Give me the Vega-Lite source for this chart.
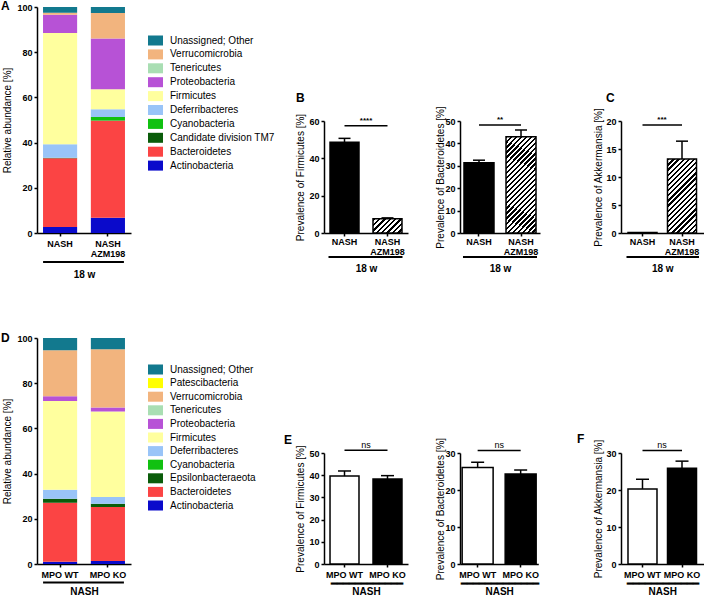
{
  "$schema": "https://vega.github.io/schema/vega-lite/v6.json",
  "padding": {"left": 1, "top": 0, "right": 0, "bottom": 0},
  "background": "white",
  "datasets": {
    "stackA": [
      {"s": "NASH", "ph": "Actinobacteria", "v": 2.7, "o": 1},
      {"s": "NASH", "ph": "Bacteroidetes", "v": 30.4, "o": 2},
      {"s": "NASH", "ph": "Candidate division TM7", "v": 0.1, "o": 3},
      {"s": "NASH", "ph": "Cyanobacteria", "v": 0.1, "o": 4},
      {"s": "NASH", "ph": "Deferribacteres", "v": 6.0, "o": 5},
      {"s": "NASH", "ph": "Firmicutes", "v": 49.2, "o": 6},
      {"s": "NASH", "ph": "Proteobacteria", "v": 8.1, "o": 7},
      {"s": "NASH", "ph": "Tenericutes", "v": 0.0, "o": 8},
      {"s": "NASH", "ph": "Verrucomicrobia", "v": 0.9, "o": 9},
      {"s": "NASH", "ph": "Unassigned; Other", "v": 2.5, "o": 10},
      {"s": "NASH AZM198", "ph": "Actinobacteria", "v": 6.7, "o": 1},
      {"s": "NASH AZM198", "ph": "Bacteroidetes", "v": 43.0, "o": 2},
      {"s": "NASH AZM198", "ph": "Candidate division TM7", "v": 0.1, "o": 3},
      {"s": "NASH AZM198", "ph": "Cyanobacteria", "v": 1.5, "o": 4},
      {"s": "NASH AZM198", "ph": "Deferribacteres", "v": 3.5, "o": 5},
      {"s": "NASH AZM198", "ph": "Firmicutes", "v": 8.8, "o": 6},
      {"s": "NASH AZM198", "ph": "Proteobacteria", "v": 22.5, "o": 7},
      {"s": "NASH AZM198", "ph": "Tenericutes", "v": 0.0, "o": 8},
      {"s": "NASH AZM198", "ph": "Verrucomicrobia", "v": 11.3, "o": 9},
      {"s": "NASH AZM198", "ph": "Unassigned; Other", "v": 2.6, "o": 10}
    ],
    "stackD": [
      {"s": "MPO WT", "ph": "Actinobacteria", "v": 1.0, "o": 1},
      {"s": "MPO WT", "ph": "Bacteroidetes", "v": 26.1, "o": 2},
      {"s": "MPO WT", "ph": "Epsilonbacteraeota", "v": 1.8, "o": 3},
      {"s": "MPO WT", "ph": "Cyanobacteria", "v": 0.0, "o": 4},
      {"s": "MPO WT", "ph": "Deferribacteres", "v": 4.0, "o": 5},
      {"s": "MPO WT", "ph": "Firmicutes", "v": 39.2, "o": 6},
      {"s": "MPO WT", "ph": "Proteobacteria", "v": 2.1, "o": 7},
      {"s": "MPO WT", "ph": "Tenericutes", "v": 0.0, "o": 8},
      {"s": "MPO WT", "ph": "Verrucomicrobia", "v": 20.4, "o": 9},
      {"s": "MPO WT", "ph": "Patescibacteria", "v": 0.0, "o": 10},
      {"s": "MPO WT", "ph": "Unassigned; Other", "v": 5.4, "o": 11},
      {"s": "MPO KO", "ph": "Actinobacteria", "v": 1.3, "o": 1},
      {"s": "MPO KO", "ph": "Bacteroidetes", "v": 23.9, "o": 2},
      {"s": "MPO KO", "ph": "Epsilonbacteraeota", "v": 1.5, "o": 3},
      {"s": "MPO KO", "ph": "Cyanobacteria", "v": 0.0, "o": 4},
      {"s": "MPO KO", "ph": "Deferribacteres", "v": 2.9, "o": 5},
      {"s": "MPO KO", "ph": "Firmicutes", "v": 37.9, "o": 6},
      {"s": "MPO KO", "ph": "Proteobacteria", "v": 1.8, "o": 7},
      {"s": "MPO KO", "ph": "Tenericutes", "v": 0.0, "o": 8},
      {"s": "MPO KO", "ph": "Verrucomicrobia", "v": 25.7, "o": 9},
      {"s": "MPO KO", "ph": "Patescibacteria", "v": 0.0, "o": 10},
      {"s": "MPO KO", "ph": "Unassigned; Other", "v": 5.0, "o": 11}
    ],
    "bars": [
      {"p": "B1", "g": "NASH", "v": 48.6, "e": 50.7},
      {"p": "B1", "g": "NASH AZM198", "v": 7.6, "e": 8.1},
      {"p": "B2", "g": "NASH", "v": 31.4, "e": 32.5},
      {"p": "B2", "g": "NASH AZM198", "v": 43.0, "e": 46.0},
      {"p": "C", "g": "NASH", "v": 0.1, "e": 0.1},
      {"p": "C", "g": "NASH AZM198", "v": 13.2, "e": 16.4},
      {"p": "E1", "g": "MPO WT", "v": 39.6, "e": 41.9},
      {"p": "E1", "g": "MPO KO", "v": 38.3, "e": 39.8},
      {"p": "E2", "g": "MPO WT", "v": 26.1, "e": 27.5},
      {"p": "E2", "g": "MPO KO", "v": 24.3, "e": 25.4},
      {"p": "F", "g": "MPO WT", "v": 20.3, "e": 22.9},
      {"p": "F", "g": "MPO KO", "v": 25.9, "e": 27.8}
    ],
    "sig": [
      {"p": "B1", "g": "NASH", "g2": "NASH AZM198", "v": 57.5, "t": "****"},
      {"p": "B2", "g": "NASH", "g2": "NASH AZM198", "v": 48.2, "t": "**"},
      {"p": "C", "g": "NASH", "g2": "NASH AZM198", "v": 19.3, "t": "***"},
      {"p": "E1", "g": "MPO WT", "g2": "MPO KO", "v": 51.2, "t": "ns"},
      {"p": "E2", "g": "MPO WT", "g2": "MPO KO", "v": 30.7, "t": "ns"},
      {"p": "F", "g": "MPO WT", "g2": "MPO KO", "v": 30.7, "t": "ns"}
    ]
  },
  "columns": 4,
  "align": "each",
  "bounds": "flush",
  "spacing": {"row": 105, "column": 0},
  "concat": [
    {
      "width": 287, "height": 226,
      "title": {"text": "A", "anchor": "start", "frame": "bounds", "fontSize": 12, "fontWeight": "bold", "offset": 0, "dy": 10, "dx": -1},
      "encoding": {
        "x": {"field": "s", "type": "nominal", "scale": {"domain": ["NASH", "NASH AZM198"], "range": [0, 94], "paddingInner": 0.287, "paddingOuter": 0.126},
              "axis": {"title": "18 w", "titleY": 36.5, "labelExpr": "datum.value == 'NASH AZM198' ? ['NASH', 'AZM198'] : datum.label"}}
      },
      "layer": [
        {
          "data": {"name": "stackA"},
          "mark": {"type": "bar"},
          "encoding": {
            "y": {"field": "v", "type": "quantitative", "stack": "zero", "scale": {"domain": [0, 100], "nice": false}, "axis": {"values": [0, 20, 40, 60, 80, 100], "titleX": -25}, "title": "Relative abundance [%]"},
            "color": {"field": "ph", "type": "nominal",
              "scale": {"domain": ["Unassigned; Other", "Verrucomicrobia", "Tenericutes", "Proteobacteria", "Firmicutes", "Deferribacteres", "Cyanobacteria", "Candidate division TM7", "Bacteroidetes", "Actinobacteria"],
                        "range": ["#12798e", "#f2b47e", "#a9deb3", "#b752d6", "#ffff9e", "#99c4f8", "#11c111", "#0a5c0a", "#fb4444", "#0a0acb"]},
              "legend": {"orient": "none", "legendX": 111, "legendY": 26, "title": null, "rowPadding": 0.9}},
            "order": {"field": "o", "type": "quantitative"}
          }
        },
        {"data": {"values": [{"s": "NASH", "s2": "NASH AZM198", "z": 0}]}, "mark": {"type": "rule", "color": "black", "strokeWidth": 2, "xOffset": -17, "x2Offset": 16, "yOffset": 29}, "encoding": {"x2": {"field": "s2"}, "y": {"field": "z", "type": "quantitative", "title": "Relative abundance [%]"}}}
      ]
    },
    {
      "width": 136, "height": 226,
      "title": {"text": "B", "anchor": "start", "frame": "bounds", "fontSize": 12, "fontWeight": "bold", "offset": 0, "dy": 98, "dx": 1},
      "encoding": {
        "x": {"field": "g", "type": "nominal", "scale": {"domain": ["NASH", "NASH AZM198"], "range": [0, 84], "paddingInner": 0.326, "paddingOuter": 0.14},
              "axis": {"title": "18 w", "titleY": 30.5, "labelPadding": 1, "labelExpr": "datum.value == 'NASH AZM198' ? ['NASH', 'AZM198'] : datum.label"}},
        "y": {"field": "v", "type": "quantitative", "scale": {"domain": [0, 60], "range": [226, 114], "nice": false}, "axis": {"values": [0, 20, 40, 60], "titleX": -19}, "title": "Prevalence of Firmicutes [%]"}
      },
      "layer": [
        {"data": {"name": "bars"}, "transform": [{"filter": "datum.p == 'B1' && datum.g == 'NASH'"}], "mark": {"type": "bar", "fill": "black", "stroke": "black", "strokeWidth": 1.5}},
        {"data": {"name": "bars"}, "transform": [{"filter": "datum.p == 'B1' && datum.g == 'NASH AZM198'"}], "mark": {"type": "bar", "stroke": "black", "strokeWidth": 1.5,
          "fill": {"gradient": "linear", "x1": 0, "y1": 0, "x2": 1.2016, "y2": 0.588, "stops": [
            {"offset": 0, "color": "black"}, {"offset": 0.05625, "color": "black"}, {"offset": 0.05625, "color": "white"}, {"offset": 0.125, "color": "white"},
            {"offset": 0.125, "color": "black"}, {"offset": 0.18125, "color": "black"}, {"offset": 0.18125, "color": "white"}, {"offset": 0.25, "color": "white"},
            {"offset": 0.25, "color": "black"}, {"offset": 0.30625, "color": "black"}, {"offset": 0.30625, "color": "white"}, {"offset": 0.375, "color": "white"},
            {"offset": 0.375, "color": "black"}, {"offset": 0.43125, "color": "black"}, {"offset": 0.43125, "color": "white"}, {"offset": 0.5, "color": "white"},
            {"offset": 0.5, "color": "black"}, {"offset": 0.55625, "color": "black"}, {"offset": 0.55625, "color": "white"}, {"offset": 0.625, "color": "white"},
            {"offset": 0.625, "color": "black"}, {"offset": 0.68125, "color": "black"}, {"offset": 0.68125, "color": "white"}, {"offset": 0.75, "color": "white"},
            {"offset": 0.75, "color": "black"}, {"offset": 0.80625, "color": "black"}, {"offset": 0.80625, "color": "white"}, {"offset": 0.875, "color": "white"},
            {"offset": 0.875, "color": "black"}, {"offset": 0.93125, "color": "black"}, {"offset": 0.93125, "color": "white"}, {"offset": 1, "color": "white"}
          ]}}},
        {"data": {"name": "bars"}, "transform": [{"filter": "datum.p == 'B1'"}], "mark": {"type": "rule", "color": "black", "strokeWidth": 1.5}, "encoding": {"y2": {"field": "e"}}},
        {"data": {"name": "bars"}, "transform": [{"filter": "datum.p == 'B1'"}], "mark": {"type": "tick", "color": "black", "opacity": 1, "thickness": 1.5, "size": 12}, "encoding": {"y": {"field": "e", "type": "quantitative", "title": "Prevalence of Firmicutes [%]"}}},
        {"data": {"name": "sig"}, "transform": [{"filter": "datum.p == 'B1'"}], "mark": {"type": "rule", "color": "black", "strokeWidth": 1.5}, "encoding": {"x2": {"field": "g2"}}},
        {"data": {"name": "sig"}, "transform": [{"filter": "datum.p == 'B1'"}], "mark": {"type": "text", "dx": 21.5, "dy": -1, "baseline": "bottom", "fontSize": 8, "fontWeight": "bold", "color": "black"}, "encoding": {"text": {"field": "t"}}},
        {"data": {"values": [{"g": "NASH", "g2": "NASH AZM198", "z": 0}]}, "mark": {"type": "rule", "color": "black", "strokeWidth": 2, "xOffset": -16, "x2Offset": 15, "yOffset": 24}, "encoding": {"x2": {"field": "g2"}, "y": {"field": "z", "type": "quantitative", "title": "Prevalence of Firmicutes [%]"}}}
      ]
    },
    {
      "width": 161, "height": 226,
      "encoding": {
        "x": {"field": "g", "type": "nominal", "scale": {"domain": ["NASH", "NASH AZM198"], "range": [0, 80], "paddingInner": 0.286, "paddingOuter": 0.095},
              "axis": {"title": "18 w", "titleY": 30.5, "labelPadding": 1, "labelExpr": "datum.value == 'NASH AZM198' ? ['NASH', 'AZM198'] : datum.label"}},
        "y": {"field": "v", "type": "quantitative", "scale": {"domain": [0, 50], "range": [226, 114], "nice": false}, "axis": {"values": [0, 10, 20, 30, 40, 50], "titleX": -15}, "title": "Prevalence of Bacteroidetes [%]"}
      },
      "layer": [
        {"data": {"name": "bars"}, "transform": [{"filter": "datum.p == 'B2' && datum.g == 'NASH'"}], "mark": {"type": "bar", "fill": "black", "stroke": "black", "strokeWidth": 1.5}},
        {"data": {"name": "bars"}, "transform": [{"filter": "datum.p == 'B2' && datum.g == 'NASH AZM198'"}], "mark": {"type": "bar", "stroke": "black", "strokeWidth": 1.5,
          "fill": {"gradient": "linear", "x1": 0, "y1": 0, "x2": 0.3816, "y2": 1.197, "stops": [
            {"offset": 0, "color": "black"}, {"offset": 0.018, "color": "black"}, {"offset": 0.018, "color": "white"}, {"offset": 0.04, "color": "white"},
            {"offset": 0.04, "color": "black"}, {"offset": 0.058, "color": "black"}, {"offset": 0.058, "color": "white"}, {"offset": 0.08, "color": "white"},
            {"offset": 0.08, "color": "black"}, {"offset": 0.098, "color": "black"}, {"offset": 0.098, "color": "white"}, {"offset": 0.12, "color": "white"},
            {"offset": 0.12, "color": "black"}, {"offset": 0.138, "color": "black"}, {"offset": 0.138, "color": "white"}, {"offset": 0.16, "color": "white"},
            {"offset": 0.16, "color": "black"}, {"offset": 0.178, "color": "black"}, {"offset": 0.178, "color": "white"}, {"offset": 0.2, "color": "white"},
            {"offset": 0.2, "color": "black"}, {"offset": 0.218, "color": "black"}, {"offset": 0.218, "color": "white"}, {"offset": 0.24, "color": "white"},
            {"offset": 0.24, "color": "black"}, {"offset": 0.258, "color": "black"}, {"offset": 0.258, "color": "white"}, {"offset": 0.28, "color": "white"},
            {"offset": 0.28, "color": "black"}, {"offset": 0.298, "color": "black"}, {"offset": 0.298, "color": "white"}, {"offset": 0.32, "color": "white"},
            {"offset": 0.32, "color": "black"}, {"offset": 0.338, "color": "black"}, {"offset": 0.338, "color": "white"}, {"offset": 0.36, "color": "white"},
            {"offset": 0.36, "color": "black"}, {"offset": 0.378, "color": "black"}, {"offset": 0.378, "color": "white"}, {"offset": 0.4, "color": "white"},
            {"offset": 0.4, "color": "black"}, {"offset": 0.418, "color": "black"}, {"offset": 0.418, "color": "white"}, {"offset": 0.44, "color": "white"},
            {"offset": 0.44, "color": "black"}, {"offset": 0.458, "color": "black"}, {"offset": 0.458, "color": "white"}, {"offset": 0.48, "color": "white"},
            {"offset": 0.48, "color": "black"}, {"offset": 0.498, "color": "black"}, {"offset": 0.498, "color": "white"}, {"offset": 0.52, "color": "white"},
            {"offset": 0.52, "color": "black"}, {"offset": 0.538, "color": "black"}, {"offset": 0.538, "color": "white"}, {"offset": 0.56, "color": "white"},
            {"offset": 0.56, "color": "black"}, {"offset": 0.578, "color": "black"}, {"offset": 0.578, "color": "white"}, {"offset": 0.6, "color": "white"},
            {"offset": 0.6, "color": "black"}, {"offset": 0.618, "color": "black"}, {"offset": 0.618, "color": "white"}, {"offset": 0.64, "color": "white"},
            {"offset": 0.64, "color": "black"}, {"offset": 0.658, "color": "black"}, {"offset": 0.658, "color": "white"}, {"offset": 0.68, "color": "white"},
            {"offset": 0.68, "color": "black"}, {"offset": 0.698, "color": "black"}, {"offset": 0.698, "color": "white"}, {"offset": 0.72, "color": "white"},
            {"offset": 0.72, "color": "black"}, {"offset": 0.738, "color": "black"}, {"offset": 0.738, "color": "white"}, {"offset": 0.76, "color": "white"},
            {"offset": 0.76, "color": "black"}, {"offset": 0.778, "color": "black"}, {"offset": 0.778, "color": "white"}, {"offset": 0.8, "color": "white"},
            {"offset": 0.8, "color": "black"}, {"offset": 0.818, "color": "black"}, {"offset": 0.818, "color": "white"}, {"offset": 0.84, "color": "white"},
            {"offset": 0.84, "color": "black"}, {"offset": 0.858, "color": "black"}, {"offset": 0.858, "color": "white"}, {"offset": 0.88, "color": "white"},
            {"offset": 0.88, "color": "black"}, {"offset": 0.898, "color": "black"}, {"offset": 0.898, "color": "white"}, {"offset": 0.92, "color": "white"},
            {"offset": 0.92, "color": "black"}, {"offset": 0.938, "color": "black"}, {"offset": 0.938, "color": "white"}, {"offset": 0.96, "color": "white"},
            {"offset": 0.96, "color": "black"}, {"offset": 0.978, "color": "black"}, {"offset": 0.978, "color": "white"}, {"offset": 1, "color": "white"}
          ]}}},
        {"data": {"name": "bars"}, "transform": [{"filter": "datum.p == 'B2'"}], "mark": {"type": "rule", "color": "black", "strokeWidth": 1.5}, "encoding": {"y2": {"field": "e"}}},
        {"data": {"name": "bars"}, "transform": [{"filter": "datum.p == 'B2'"}], "mark": {"type": "tick", "color": "black", "opacity": 1, "thickness": 1.5, "size": 12}, "encoding": {"y": {"field": "e", "type": "quantitative", "title": "Prevalence of Bacteroidetes [%]"}}},
        {"data": {"name": "sig"}, "transform": [{"filter": "datum.p == 'B2'"}], "mark": {"type": "rule", "color": "black", "strokeWidth": 1.5}, "encoding": {"x2": {"field": "g2"}}},
        {"data": {"name": "sig"}, "transform": [{"filter": "datum.p == 'B2'"}], "mark": {"type": "text", "dx": 21, "dy": -1, "baseline": "bottom", "fontSize": 8, "fontWeight": "bold", "color": "black"}, "encoding": {"text": {"field": "t"}}},
        {"data": {"values": [{"g": "NASH", "g2": "NASH AZM198", "z": 0}]}, "mark": {"type": "rule", "color": "black", "strokeWidth": 2, "xOffset": -16, "x2Offset": 16, "yOffset": 24}, "encoding": {"x2": {"field": "g2"}, "y": {"field": "z", "type": "quantitative", "title": "Prevalence of Bacteroidetes [%]"}}}
      ]
    },
    {
      "width": 85, "height": 226,
      "title": {"text": "C", "anchor": "start", "frame": "bounds", "fontSize": 12, "fontWeight": "bold", "offset": 0, "dy": 98, "dx": 13},
      "encoding": {
        "x": {"field": "g", "type": "nominal", "scale": {"domain": ["NASH", "NASH AZM198"], "range": [0, 82.5], "paddingInner": 0.266, "paddingOuter": 0.177},
              "axis": {"title": "18 w", "titleY": 30.5, "labelPadding": 1, "labelExpr": "datum.value == 'NASH AZM198' ? ['NASH', 'AZM198'] : datum.label"}},
        "y": {"field": "v", "type": "quantitative", "scale": {"domain": [0, 20], "range": [226, 114], "nice": false}, "axis": {"values": [0, 5, 10, 15, 20], "titleX": -18}, "title": "Prevalence of Akkermansia [%]"}
      },
      "layer": [
        {"data": {"name": "bars"}, "transform": [{"filter": "datum.p == 'C' && datum.g == 'NASH'"}], "mark": {"type": "bar", "fill": "black", "stroke": "black", "strokeWidth": 1.5}},
        {"data": {"name": "bars"}, "transform": [{"filter": "datum.p == 'C' && datum.g == 'NASH AZM198'"}], "mark": {"type": "bar", "stroke": "black", "strokeWidth": 1.5,
          "fill": {"gradient": "linear", "x1": 0, "y1": 0, "x2": 0.4735, "y2": 1.2066, "stops": [
            {"offset": 0, "color": "black"}, {"offset": 0.0225, "color": "black"}, {"offset": 0.0225, "color": "white"}, {"offset": 0.05, "color": "white"},
            {"offset": 0.05, "color": "black"}, {"offset": 0.0725, "color": "black"}, {"offset": 0.0725, "color": "white"}, {"offset": 0.1, "color": "white"},
            {"offset": 0.1, "color": "black"}, {"offset": 0.1225, "color": "black"}, {"offset": 0.1225, "color": "white"}, {"offset": 0.15, "color": "white"},
            {"offset": 0.15, "color": "black"}, {"offset": 0.1725, "color": "black"}, {"offset": 0.1725, "color": "white"}, {"offset": 0.2, "color": "white"},
            {"offset": 0.2, "color": "black"}, {"offset": 0.2225, "color": "black"}, {"offset": 0.2225, "color": "white"}, {"offset": 0.25, "color": "white"},
            {"offset": 0.25, "color": "black"}, {"offset": 0.2725, "color": "black"}, {"offset": 0.2725, "color": "white"}, {"offset": 0.3, "color": "white"},
            {"offset": 0.3, "color": "black"}, {"offset": 0.3225, "color": "black"}, {"offset": 0.3225, "color": "white"}, {"offset": 0.35, "color": "white"},
            {"offset": 0.35, "color": "black"}, {"offset": 0.3725, "color": "black"}, {"offset": 0.3725, "color": "white"}, {"offset": 0.4, "color": "white"},
            {"offset": 0.4, "color": "black"}, {"offset": 0.4225, "color": "black"}, {"offset": 0.4225, "color": "white"}, {"offset": 0.45, "color": "white"},
            {"offset": 0.45, "color": "black"}, {"offset": 0.4725, "color": "black"}, {"offset": 0.4725, "color": "white"}, {"offset": 0.5, "color": "white"},
            {"offset": 0.5, "color": "black"}, {"offset": 0.5225, "color": "black"}, {"offset": 0.5225, "color": "white"}, {"offset": 0.55, "color": "white"},
            {"offset": 0.55, "color": "black"}, {"offset": 0.5725, "color": "black"}, {"offset": 0.5725, "color": "white"}, {"offset": 0.6, "color": "white"},
            {"offset": 0.6, "color": "black"}, {"offset": 0.6225, "color": "black"}, {"offset": 0.6225, "color": "white"}, {"offset": 0.65, "color": "white"},
            {"offset": 0.65, "color": "black"}, {"offset": 0.6725, "color": "black"}, {"offset": 0.6725, "color": "white"}, {"offset": 0.7, "color": "white"},
            {"offset": 0.7, "color": "black"}, {"offset": 0.7225, "color": "black"}, {"offset": 0.7225, "color": "white"}, {"offset": 0.75, "color": "white"},
            {"offset": 0.75, "color": "black"}, {"offset": 0.7725, "color": "black"}, {"offset": 0.7725, "color": "white"}, {"offset": 0.8, "color": "white"},
            {"offset": 0.8, "color": "black"}, {"offset": 0.8225, "color": "black"}, {"offset": 0.8225, "color": "white"}, {"offset": 0.85, "color": "white"},
            {"offset": 0.85, "color": "black"}, {"offset": 0.8725, "color": "black"}, {"offset": 0.8725, "color": "white"}, {"offset": 0.9, "color": "white"},
            {"offset": 0.9, "color": "black"}, {"offset": 0.9225, "color": "black"}, {"offset": 0.9225, "color": "white"}, {"offset": 0.95, "color": "white"},
            {"offset": 0.95, "color": "black"}, {"offset": 0.9725, "color": "black"}, {"offset": 0.9725, "color": "white"}, {"offset": 1, "color": "white"}
          ]}}},
        {"data": {"name": "bars"}, "transform": [{"filter": "datum.p == 'C' && datum.g == 'NASH AZM198'"}], "mark": {"type": "rule", "color": "black", "strokeWidth": 1.5}, "encoding": {"y2": {"field": "e"}}},
        {"data": {"name": "bars"}, "transform": [{"filter": "datum.p == 'C' && datum.g == 'NASH AZM198'"}], "mark": {"type": "tick", "color": "black", "opacity": 1, "thickness": 1.5, "size": 12}, "encoding": {"y": {"field": "e", "type": "quantitative", "title": "Prevalence of Akkermansia [%]"}}},
        {"data": {"name": "sig"}, "transform": [{"filter": "datum.p == 'C'"}], "mark": {"type": "rule", "color": "black", "strokeWidth": 1.5}, "encoding": {"x2": {"field": "g2"}}},
        {"data": {"name": "sig"}, "transform": [{"filter": "datum.p == 'C'"}], "mark": {"type": "text", "dx": 19.5, "dy": -1, "baseline": "bottom", "fontSize": 8, "fontWeight": "bold", "color": "black"}, "encoding": {"text": {"field": "t"}}},
        {"data": {"values": [{"g": "NASH", "g2": "NASH AZM198", "z": 0}]}, "mark": {"type": "rule", "color": "black", "strokeWidth": 2, "xOffset": -16, "x2Offset": 17, "yOffset": 24}, "encoding": {"x2": {"field": "g2"}, "y": {"field": "z", "type": "quantitative", "title": "Prevalence of Akkermansia [%]"}}}
      ]
    },
    {
      "width": 287, "height": 226,
      "title": {"text": "D", "anchor": "start", "frame": "bounds", "fontSize": 12, "fontWeight": "bold", "offset": 0, "dy": 11, "dx": -1},
      "encoding": {
        "x": {"field": "s", "type": "nominal", "scale": {"domain": ["MPO WT", "MPO KO"], "range": [0, 94], "paddingInner": 0.287, "paddingOuter": 0.126},
              "axis": {"title": "NASH", "titleY": 22}}
      },
      "layer": [
        {
          "data": {"name": "stackD"},
          "mark": {"type": "bar"},
          "encoding": {
            "y": {"field": "v", "type": "quantitative", "stack": "zero", "scale": {"domain": [0, 100], "nice": false}, "axis": {"values": [0, 20, 40, 60, 80, 100], "titleX": -25}, "title": "Relative abundance [%]"},
            "color": {"field": "ph", "type": "nominal",
              "scale": {"domain": ["Unassigned; Other", "Patescibacteria", "Verrucomicrobia", "Tenericutes", "Proteobacteria", "Firmicutes", "Deferribacteres", "Cyanobacteria", "Epsilonbacteraeota", "Bacteroidetes", "Actinobacteria"],
                        "range": ["#12798e", "#ffff00", "#f2b47e", "#a9deb3", "#b752d6", "#ffff9e", "#99c4f8", "#11c111", "#0a5c0a", "#fb4444", "#0a0acb"]},
              "legend": {"orient": "none", "legendX": 111, "legendY": 24, "title": null, "rowPadding": 0.6}},
            "order": {"field": "o", "type": "quantitative"}
          }
        },
        {"data": {"values": [{"s": "MPO WT", "s2": "MPO KO", "z": 0}]}, "mark": {"type": "rule", "color": "black", "strokeWidth": 2, "xOffset": -17, "x2Offset": 16, "yOffset": 18.5}, "encoding": {"x2": {"field": "s2"}, "y": {"field": "z", "type": "quantitative", "title": "Relative abundance [%]"}}}
      ]
    },
    {
      "width": 136, "height": 226,
      "title": {"text": "E", "anchor": "start", "frame": "bounds", "fontSize": 12, "fontWeight": "bold", "offset": 0, "dy": 109, "dx": -11},
      "encoding": {
        "x": {"field": "g", "type": "nominal", "scale": {"domain": ["MPO WT", "MPO KO"], "range": [0, 84], "paddingInner": 0.326, "paddingOuter": 0.14},
              "axis": {"title": ["━━━━━━━━━━━━", "NASH"], "titleY": 14, "titleLineHeight": 8.5}},
        "y": {"field": "v", "type": "quantitative", "scale": {"domain": [0, 50], "range": [226, 115], "nice": false}, "axis": {"values": [0, 10, 20, 30, 40, 50], "titleX": -19}, "title": "Prevalence of Firmicutes [%]"}
      },
      "layer": [
        {"data": {"name": "bars"}, "transform": [{"filter": "datum.p == 'E1' && datum.g == 'MPO WT'"}], "mark": {"type": "bar", "fill": "white", "stroke": "black", "strokeWidth": 1.5}},
        {"data": {"name": "bars"}, "transform": [{"filter": "datum.p == 'E1' && datum.g == 'MPO KO'"}], "mark": {"type": "bar", "fill": "black", "stroke": "black", "strokeWidth": 1.5}},
        {"data": {"name": "bars"}, "transform": [{"filter": "datum.p == 'E1'"}], "mark": {"type": "rule", "color": "black", "strokeWidth": 1.5}, "encoding": {"y2": {"field": "e"}}},
        {"data": {"name": "bars"}, "transform": [{"filter": "datum.p == 'E1'"}], "mark": {"type": "tick", "color": "black", "opacity": 1, "thickness": 1.5, "size": 13}, "encoding": {"y": {"field": "e", "type": "quantitative", "title": "Prevalence of Firmicutes [%]"}}},
        {"data": {"name": "sig"}, "transform": [{"filter": "datum.p == 'E1'"}], "mark": {"type": "rule", "color": "black", "strokeWidth": 1.5}, "encoding": {"x2": {"field": "g2"}}},
        {"data": {"name": "sig"}, "transform": [{"filter": "datum.p == 'E1'"}], "mark": {"type": "text", "dx": 21.5, "dy": 0, "baseline": "bottom", "fontSize": 9, "color": "black"}, "encoding": {"text": {"field": "t"}}}
      ]
    },
    {
      "width": 161, "height": 226,
      "encoding": {
        "x": {"field": "g", "type": "nominal", "scale": {"domain": ["MPO WT", "MPO KO"], "range": [0, 78.3], "paddingInner": 0.28, "paddingOuter": 0.05},
              "axis": {"title": ["━━━━━━━━━━━━━", "NASH"], "titleY": 14, "titleLineHeight": 8.5}},
        "y": {"field": "v", "type": "quantitative", "scale": {"domain": [0, 30], "range": [226, 115], "nice": false}, "axis": {"values": [0, 10, 20, 30], "titleX": -15}, "title": "Prevalence of Bacteroidetes [%]"}
      },
      "layer": [
        {"data": {"name": "bars"}, "transform": [{"filter": "datum.p == 'E2' && datum.g == 'MPO WT'"}], "mark": {"type": "bar", "fill": "white", "stroke": "black", "strokeWidth": 1.5}},
        {"data": {"name": "bars"}, "transform": [{"filter": "datum.p == 'E2' && datum.g == 'MPO KO'"}], "mark": {"type": "bar", "fill": "black", "stroke": "black", "strokeWidth": 1.5}},
        {"data": {"name": "bars"}, "transform": [{"filter": "datum.p == 'E2'"}], "mark": {"type": "rule", "color": "black", "strokeWidth": 1.5}, "encoding": {"y2": {"field": "e"}}},
        {"data": {"name": "bars"}, "transform": [{"filter": "datum.p == 'E2'"}], "mark": {"type": "tick", "color": "black", "opacity": 1, "thickness": 1.5, "size": 13}, "encoding": {"y": {"field": "e", "type": "quantitative", "title": "Prevalence of Bacteroidetes [%]"}}},
        {"data": {"name": "sig"}, "transform": [{"filter": "datum.p == 'E2'"}], "mark": {"type": "rule", "color": "black", "strokeWidth": 1.5}, "encoding": {"x2": {"field": "g2"}}},
        {"data": {"name": "sig"}, "transform": [{"filter": "datum.p == 'E2'"}], "mark": {"type": "text", "dx": 21.5, "dy": 0, "baseline": "bottom", "fontSize": 9, "color": "black"}, "encoding": {"text": {"field": "t"}}}
      ]
    },
    {
      "width": 85, "height": 226,
      "title": {"text": "F", "anchor": "start", "frame": "bounds", "fontSize": 12, "fontWeight": "bold", "offset": 0, "dy": 108, "dx": -16},
      "encoding": {
        "x": {"field": "g", "type": "nominal", "scale": {"domain": ["MPO WT", "MPO KO"], "range": [0, 82.5], "paddingInner": 0.266, "paddingOuter": 0.177},
              "axis": {"title": ["━━━━━━━━━━━━", "NASH"], "titleY": 14, "titleLineHeight": 8.5}},
        "y": {"field": "v", "type": "quantitative", "scale": {"domain": [0, 30], "range": [226, 115], "nice": false}, "axis": {"values": [0, 10, 20, 30], "titleX": -18}, "title": "Prevalence of Akkermansia [%]"}
      },
      "layer": [
        {"data": {"name": "bars"}, "transform": [{"filter": "datum.p == 'F' && datum.g == 'MPO WT'"}], "mark": {"type": "bar", "fill": "white", "stroke": "black", "strokeWidth": 1.5}},
        {"data": {"name": "bars"}, "transform": [{"filter": "datum.p == 'F' && datum.g == 'MPO KO'"}], "mark": {"type": "bar", "fill": "black", "stroke": "black", "strokeWidth": 1.5}},
        {"data": {"name": "bars"}, "transform": [{"filter": "datum.p == 'F'"}], "mark": {"type": "rule", "color": "black", "strokeWidth": 1.5}, "encoding": {"y2": {"field": "e"}}},
        {"data": {"name": "bars"}, "transform": [{"filter": "datum.p == 'F'"}], "mark": {"type": "tick", "color": "black", "opacity": 1, "thickness": 1.5, "size": 13}, "encoding": {"y": {"field": "e", "type": "quantitative", "title": "Prevalence of Akkermansia [%]"}}},
        {"data": {"name": "sig"}, "transform": [{"filter": "datum.p == 'F'"}], "mark": {"type": "rule", "color": "black", "strokeWidth": 1.5}, "encoding": {"x2": {"field": "g2"}}},
        {"data": {"name": "sig"}, "transform": [{"filter": "datum.p == 'F'"}], "mark": {"type": "text", "dx": 19.5, "dy": 0, "baseline": "bottom", "fontSize": 9, "color": "black"}, "encoding": {"text": {"field": "t"}}}
      ]
    }
  ],
  "resolve": {"scale": {"color": "independent"}},
  "config": {
    "view": {"stroke": null},
    "font": "Liberation Sans",
    "title": {"font": "Liberation Sans", "color": "black"},
    "axis": {"domainColor": "black", "domainWidth": 1.5, "tickColor": "black", "tickWidth": 1.5, "tickSize": 3, "labelColor": "black", "labelFont": "Liberation Sans", "labelFontSize": 9, "labelFontWeight": "bold", "titleFont": "Liberation Sans", "titleFontSize": 10, "titleFontWeight": "normal", "titleColor": "black", "grid": false, "labelPadding": 2},
    "axisX": {"labelAngle": 0, "titleFontWeight": "bold", "titleFontSize": 10, "labelLineHeight": 10, "labelPadding": 3},
    "legend": {"labelFont": "Liberation Sans", "labelFontSize": 10, "labelColor": "black", "symbolType": "M-1,-0.667H1V0.667H-1Z", "symbolSize": 225, "symbolStrokeWidth": 0, "labelOffset": 7}
  }
}
